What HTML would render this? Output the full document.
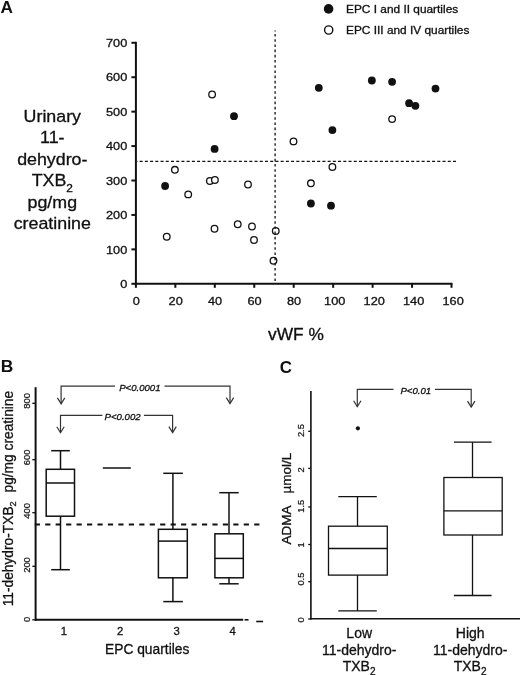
<!DOCTYPE html>
<html><head><meta charset="utf-8"><style>
html,body{margin:0;padding:0;background:#fff;}
svg{display:block;will-change:transform;}
text{font-family:"Liberation Sans", sans-serif;stroke:#111;stroke-width:0.3px;}
</style></head><body>
<svg width="520" height="675" viewBox="0 0 520 675">
<rect width="520" height="675" fill="#fff"/>
<text transform="translate(0.5,12.7)" font-size="17.2" text-anchor="start" font-weight="bold" font-style="normal" fill="#111" style="stroke:none">A</text>
<circle cx="328.6" cy="8.9" r="4.8" fill="#111"/>
<circle cx="328.7" cy="30" r="4.1" fill="none" stroke="#111" stroke-width="1.4"/>
<text transform="translate(346.0,13.1) scale(1.1,1)" font-size="10.8" text-anchor="start" font-weight="normal" font-style="normal" fill="#111">EPC I and II quartiles</text>
<text transform="translate(346.0,34.2) scale(1.1,1)" font-size="10.8" text-anchor="start" font-weight="normal" font-style="normal" fill="#111">EPC III and IV quartiles</text>
<line x1="135.9" y1="41.8" x2="135.9" y2="284.8" stroke="#111" stroke-width="2" />
<line x1="134.9" y1="283.8" x2="452.5" y2="283.8" stroke="#111" stroke-width="2" />
<line x1="131.4" y1="283.8" x2="135.9" y2="283.8" stroke="#111" stroke-width="2" />
<text transform="translate(127.3,288.0) scale(1.1,1)" font-size="11.6" text-anchor="end" font-weight="normal" font-style="normal" fill="#111">0</text>
<line x1="131.4" y1="249.37" x2="135.9" y2="249.37" stroke="#111" stroke-width="2" />
<text transform="translate(127.3,253.57) scale(1.1,1)" font-size="11.6" text-anchor="end" font-weight="normal" font-style="normal" fill="#111">100</text>
<line x1="131.4" y1="214.94" x2="135.9" y2="214.94" stroke="#111" stroke-width="2" />
<text transform="translate(127.3,219.14) scale(1.1,1)" font-size="11.6" text-anchor="end" font-weight="normal" font-style="normal" fill="#111">200</text>
<line x1="131.4" y1="180.51" x2="135.9" y2="180.51" stroke="#111" stroke-width="2" />
<text transform="translate(127.3,184.70999999999998) scale(1.1,1)" font-size="11.6" text-anchor="end" font-weight="normal" font-style="normal" fill="#111">300</text>
<line x1="131.4" y1="146.08" x2="135.9" y2="146.08" stroke="#111" stroke-width="2" />
<text transform="translate(127.3,150.28) scale(1.1,1)" font-size="11.6" text-anchor="end" font-weight="normal" font-style="normal" fill="#111">400</text>
<line x1="131.4" y1="111.65" x2="135.9" y2="111.65" stroke="#111" stroke-width="2" />
<text transform="translate(127.3,115.85000000000001) scale(1.1,1)" font-size="11.6" text-anchor="end" font-weight="normal" font-style="normal" fill="#111">500</text>
<line x1="131.4" y1="77.22" x2="135.9" y2="77.22" stroke="#111" stroke-width="2" />
<text transform="translate(127.3,81.42) scale(1.1,1)" font-size="11.6" text-anchor="end" font-weight="normal" font-style="normal" fill="#111">600</text>
<line x1="131.4" y1="42.79" x2="135.9" y2="42.79" stroke="#111" stroke-width="2" />
<text transform="translate(127.3,46.99) scale(1.1,1)" font-size="11.6" text-anchor="end" font-weight="normal" font-style="normal" fill="#111">700</text>
<line x1="135.9" y1="283.8" x2="135.9" y2="287.8" stroke="#111" stroke-width="2" />
<text transform="translate(136.20000000000002,305.0) scale(1.1,1)" font-size="11.6" text-anchor="middle" font-weight="normal" font-style="normal" fill="#111">0</text>
<line x1="175.35" y1="283.8" x2="175.35" y2="287.8" stroke="#111" stroke-width="2" />
<text transform="translate(175.65,305.0) scale(1.1,1)" font-size="11.6" text-anchor="middle" font-weight="normal" font-style="normal" fill="#111">20</text>
<line x1="214.8" y1="283.8" x2="214.8" y2="287.8" stroke="#111" stroke-width="2" />
<text transform="translate(215.10000000000002,305.0) scale(1.1,1)" font-size="11.6" text-anchor="middle" font-weight="normal" font-style="normal" fill="#111">40</text>
<line x1="254.25" y1="283.8" x2="254.25" y2="287.8" stroke="#111" stroke-width="2" />
<text transform="translate(254.55,305.0) scale(1.1,1)" font-size="11.6" text-anchor="middle" font-weight="normal" font-style="normal" fill="#111">60</text>
<line x1="293.7" y1="283.8" x2="293.7" y2="287.8" stroke="#111" stroke-width="2" />
<text transform="translate(294.0,305.0) scale(1.1,1)" font-size="11.6" text-anchor="middle" font-weight="normal" font-style="normal" fill="#111">80</text>
<line x1="333.15" y1="283.8" x2="333.15" y2="287.8" stroke="#111" stroke-width="2" />
<text transform="translate(334.75,305.0) scale(1.1,1)" font-size="11.6" text-anchor="middle" font-weight="normal" font-style="normal" fill="#111">100</text>
<line x1="372.6" y1="283.8" x2="372.6" y2="287.8" stroke="#111" stroke-width="2" />
<text transform="translate(374.20000000000005,305.0) scale(1.1,1)" font-size="11.6" text-anchor="middle" font-weight="normal" font-style="normal" fill="#111">120</text>
<line x1="412.05" y1="283.8" x2="412.05" y2="287.8" stroke="#111" stroke-width="2" />
<text transform="translate(413.65000000000003,305.0) scale(1.1,1)" font-size="11.6" text-anchor="middle" font-weight="normal" font-style="normal" fill="#111">140</text>
<line x1="451.5" y1="283.8" x2="451.5" y2="287.8" stroke="#111" stroke-width="2" />
<text transform="translate(453.1,305.0) scale(1.1,1)" font-size="11.6" text-anchor="middle" font-weight="normal" font-style="normal" fill="#111">160</text>
<circle cx="212.1" cy="94.5" r="3.3" fill="#fff" stroke="#111" stroke-width="1.3"/>
<circle cx="174.9" cy="169.8" r="3.3" fill="#fff" stroke="#111" stroke-width="1.3"/>
<circle cx="209.9" cy="181" r="3.3" fill="#fff" stroke="#111" stroke-width="1.3"/>
<circle cx="214.9" cy="180" r="3.3" fill="#fff" stroke="#111" stroke-width="1.3"/>
<circle cx="188.2" cy="194.4" r="3.3" fill="#fff" stroke="#111" stroke-width="1.3"/>
<circle cx="248" cy="184.5" r="3.3" fill="#fff" stroke="#111" stroke-width="1.3"/>
<circle cx="166.75" cy="236.75" r="3.3" fill="#fff" stroke="#111" stroke-width="1.3"/>
<circle cx="214.5" cy="228.75" r="3.3" fill="#fff" stroke="#111" stroke-width="1.3"/>
<circle cx="237.75" cy="224.25" r="3.3" fill="#fff" stroke="#111" stroke-width="1.3"/>
<circle cx="252" cy="226.5" r="3.3" fill="#fff" stroke="#111" stroke-width="1.3"/>
<circle cx="254" cy="240" r="3.3" fill="#fff" stroke="#111" stroke-width="1.3"/>
<circle cx="275.75" cy="231" r="3.3" fill="#fff" stroke="#111" stroke-width="1.3"/>
<circle cx="273.5" cy="260.75" r="3.3" fill="#fff" stroke="#111" stroke-width="1.3"/>
<circle cx="293.5" cy="141.4" r="3.3" fill="#fff" stroke="#111" stroke-width="1.3"/>
<circle cx="392.1" cy="119.1" r="3.3" fill="#fff" stroke="#111" stroke-width="1.3"/>
<circle cx="332.4" cy="167" r="3.3" fill="#fff" stroke="#111" stroke-width="1.3"/>
<circle cx="310.9" cy="183.3" r="3.3" fill="#fff" stroke="#111" stroke-width="1.3"/>
<circle cx="234" cy="116.2" r="3.9" fill="#111"/>
<circle cx="214.6" cy="148.9" r="3.9" fill="#111"/>
<circle cx="165.1" cy="186" r="3.9" fill="#111"/>
<circle cx="318.8" cy="87.8" r="3.9" fill="#111"/>
<circle cx="371.85" cy="80.5" r="3.9" fill="#111"/>
<circle cx="392.1" cy="81.8" r="3.9" fill="#111"/>
<circle cx="435.5" cy="88.6" r="3.9" fill="#111"/>
<circle cx="409.1" cy="103.2" r="3.9" fill="#111"/>
<circle cx="415.4" cy="105.8" r="3.9" fill="#111"/>
<circle cx="332.4" cy="130.1" r="3.9" fill="#111"/>
<circle cx="310.9" cy="203.5" r="3.9" fill="#111"/>
<circle cx="331" cy="205.7" r="3.9" fill="#111"/>
<line x1="137" y1="161.4" x2="456.2" y2="161.4" stroke="#111" stroke-width="1.2" stroke-dasharray="3 2.222" stroke-dashoffset="2.57"/>
<line x1="275.1" y1="30.5" x2="275.1" y2="283" stroke="#111" stroke-width="1.3" stroke-dasharray="2.6 2.6" stroke-dashoffset="1.7"/>
<text transform="translate(52.3,122.0) scale(1.1,1)" font-size="16.2" text-anchor="middle" font-weight="normal" font-style="normal" fill="#111">Urinary</text>
<text transform="translate(52.3,143.4) scale(1.1,1)" font-size="16.2" text-anchor="middle" font-weight="normal" font-style="normal" fill="#111">11-</text>
<text transform="translate(52.3,164.9) scale(1.1,1)" font-size="16.2" text-anchor="middle" font-weight="normal" font-style="normal" fill="#111">dehydro-</text>
<text transform="translate(52.3,186.4) scale(1.1,1)" font-size="16.2" text-anchor="middle" fill="#111">TXB<tspan font-size="10.8" dy="5.3">2</tspan></text>
<text transform="translate(52.3,207.8) scale(1.1,1)" font-size="16.2" text-anchor="middle" font-weight="normal" font-style="normal" fill="#111">pg/mg</text>
<text transform="translate(52.3,229.3) scale(1.1,1)" font-size="16.2" text-anchor="middle" font-weight="normal" font-style="normal" fill="#111">creatinine</text>
<text transform="translate(295.9,339.5) scale(1.11,1)" font-size="15.6" text-anchor="middle" font-weight="normal" font-style="normal" fill="#111">vWF %</text>
<text transform="translate(0.8,372.2)" font-size="17.4" text-anchor="start" font-weight="bold" font-style="normal" fill="#111" style="stroke:none">B</text>
<line x1="35.6" y1="387.2" x2="35.6" y2="620.8" stroke="#111" stroke-width="2" />
<line x1="35" y1="619.8" x2="243.2" y2="619.8" stroke="#111" stroke-width="2" />
<line x1="244.6" y1="619.8" x2="248.5" y2="619.8" stroke="#111" stroke-width="1.6" />
<line x1="256.2" y1="621.5" x2="263.1" y2="621.5" stroke="#111" stroke-width="1.6" />
<line x1="32.3" y1="403.3" x2="36" y2="403.3" stroke="#111" stroke-width="1.3" />
<text transform="translate(30.3,400.9) rotate(-90) scale(1.04,1)" font-size="9.0" text-anchor="middle" font-weight="normal" font-style="normal" fill="#111" style="stroke-width:0.22px">800</text>
<line x1="32.3" y1="459.7" x2="36" y2="459.7" stroke="#111" stroke-width="1.3" />
<text transform="translate(30.3,457.4) rotate(-90) scale(1.04,1)" font-size="9.0" text-anchor="middle" font-weight="normal" font-style="normal" fill="#111" style="stroke-width:0.22px">600</text>
<line x1="32.3" y1="512.7" x2="36" y2="512.7" stroke="#111" stroke-width="1.3" />
<text transform="translate(30.3,510.9) rotate(-90) scale(1.04,1)" font-size="9.0" text-anchor="middle" font-weight="normal" font-style="normal" fill="#111" style="stroke-width:0.22px">400</text>
<line x1="32.3" y1="566.3" x2="36" y2="566.3" stroke="#111" stroke-width="1.3" />
<text transform="translate(30.3,565.0) rotate(-90) scale(1.04,1)" font-size="9.0" text-anchor="middle" font-weight="normal" font-style="normal" fill="#111" style="stroke-width:0.22px">200</text>
<line x1="32.3" y1="619.8" x2="36" y2="619.8" stroke="#111" stroke-width="1.3" />
<text transform="translate(30.3,619.5) rotate(-90) scale(1.04,1)" font-size="9.0" text-anchor="middle" font-weight="normal" font-style="normal" fill="#111" style="stroke-width:0.22px">0</text>
<line x1="34.75" y1="524.5" x2="259.6" y2="524.5" stroke="#111" stroke-width="1.9" stroke-dasharray="5.2 5.25"/>
<rect x="46.2" y="469.3" width="28.3" height="46.9" fill="none" stroke="#111" stroke-width="1.5"/>
<line x1="46.2" y1="483.0" x2="74.5" y2="483.0" stroke="#111" stroke-width="1.5" />
<line x1="60.5" y1="450.7" x2="60.5" y2="469.3" stroke="#111" stroke-width="1.5" />
<line x1="60.5" y1="516.2" x2="60.5" y2="569.7" stroke="#111" stroke-width="1.5" />
<line x1="51.2" y1="450.7" x2="69.8" y2="450.7" stroke="#111" stroke-width="1.5" />
<line x1="51.2" y1="569.7" x2="69.8" y2="569.7" stroke="#111" stroke-width="1.5" />
<line x1="102.8" y1="468.0" x2="130.8" y2="468.0" stroke="#111" stroke-width="1.5" />
<rect x="158.4" y="529.3" width="28.9" height="48.5" fill="none" stroke="#111" stroke-width="1.5"/>
<line x1="158.4" y1="541.1" x2="187.3" y2="541.1" stroke="#111" stroke-width="1.5" />
<line x1="172.9" y1="473.3" x2="172.9" y2="529.3" stroke="#111" stroke-width="1.5" />
<line x1="172.9" y1="577.8" x2="172.9" y2="601.6" stroke="#111" stroke-width="1.5" />
<line x1="163.3" y1="473.3" x2="182.9" y2="473.3" stroke="#111" stroke-width="1.5" />
<line x1="163.3" y1="601.6" x2="182.9" y2="601.6" stroke="#111" stroke-width="1.5" />
<rect x="214.9" y="533.8" width="28.4" height="44.0" fill="none" stroke="#111" stroke-width="1.5"/>
<line x1="214.9" y1="558.4" x2="243.3" y2="558.4" stroke="#111" stroke-width="1.5" />
<line x1="229.0" y1="492.7" x2="229.0" y2="533.8" stroke="#111" stroke-width="1.5" />
<line x1="229.0" y1="577.8" x2="229.0" y2="583.8" stroke="#111" stroke-width="1.5" />
<line x1="219.3" y1="492.7" x2="238.7" y2="492.7" stroke="#111" stroke-width="1.5" />
<line x1="219.3" y1="583.8" x2="238.7" y2="583.8" stroke="#111" stroke-width="1.5" />
<text transform="translate(63.8,635.0)" font-size="11.3" text-anchor="middle" font-weight="normal" font-style="normal" fill="#111">1</text>
<text transform="translate(120.2,635.0)" font-size="11.3" text-anchor="middle" font-weight="normal" font-style="normal" fill="#111">2</text>
<text transform="translate(176.6,635.0)" font-size="11.3" text-anchor="middle" font-weight="normal" font-style="normal" fill="#111">3</text>
<text transform="translate(232.6,635.0)" font-size="11.3" text-anchor="middle" font-weight="normal" font-style="normal" fill="#111">4</text>
<text transform="translate(105.0,653.5)" font-size="13.8" text-anchor="start" font-weight="normal" font-style="normal" fill="#111">EPC quartiles</text>
<text transform="translate(13.2,606.3) rotate(-90)" font-size="13.75" fill="#111">11-dehydro-TXB<tspan font-size="9.2" dy="3.2">2</tspan><tspan x="113.8" dy="-3.2" font-size="13.75">pg/mg creatinine</tspan></text>
<path d="M61.1,403.8 L61.1,386.2 L115.0,386.2 M164.5,386.2 L230.0,386.2 L230.0,403.5" fill="none" stroke="#333" stroke-width="1.2"/>
<path d="M57.4,397.90000000000003 L61.1,403.8 L64.8,397.90000000000003" fill="none" stroke="#333" stroke-width="1.2"/>
<path d="M226.3,397.6 L230.0,403.5 L233.7,397.6" fill="none" stroke="#333" stroke-width="1.2"/>
<text transform="translate(119.2,390.8)" font-size="9.6" text-anchor="start" font-weight="normal" font-style="italic" fill="#111">P&lt;0.0001</text>
<path d="M60.5,432.7 L60.5,415.4 L102.4,415.4 M143.9,415.4 L172.6,415.4 L172.6,432.5" fill="none" stroke="#333" stroke-width="1.2"/>
<path d="M56.8,426.8 L60.5,432.7 L64.2,426.8" fill="none" stroke="#333" stroke-width="1.2"/>
<path d="M168.9,426.6 L172.6,432.5 L176.29999999999998,426.6" fill="none" stroke="#333" stroke-width="1.2"/>
<text transform="translate(104.6,420.0)" font-size="9.6" text-anchor="start" font-weight="normal" font-style="italic" fill="#111">P&lt;0.002</text>
<text transform="translate(279.7,372.6)" font-size="16.9" text-anchor="start" font-weight="bold" font-style="normal" fill="#111" style="stroke:none">C</text>
<line x1="310.9" y1="391.0" x2="310.9" y2="619.6" stroke="#111" stroke-width="1.6" />
<line x1="310.1" y1="618.8" x2="520" y2="618.8" stroke="#111" stroke-width="1.6" />
<line x1="308.2" y1="431.3" x2="310.9" y2="431.3" stroke="#111" stroke-width="1.3" />
<text transform="translate(304.4,430.6) rotate(-90) scale(1.04,1)" font-size="9.0" text-anchor="middle" font-weight="normal" font-style="normal" fill="#111" style="stroke-width:0.22px">2.5</text>
<line x1="308.2" y1="468.4" x2="310.9" y2="468.4" stroke="#111" stroke-width="1.3" />
<text transform="translate(304.4,470.0) rotate(-90) scale(1.04,1)" font-size="9.0" text-anchor="middle" font-weight="normal" font-style="normal" fill="#111" style="stroke-width:0.22px">2</text>
<line x1="308.2" y1="507.0" x2="310.9" y2="507.0" stroke="#111" stroke-width="1.3" />
<text transform="translate(304.4,506.3) rotate(-90) scale(1.04,1)" font-size="9.0" text-anchor="middle" font-weight="normal" font-style="normal" fill="#111" style="stroke-width:0.22px">1.5</text>
<line x1="308.2" y1="544.5" x2="310.9" y2="544.5" stroke="#111" stroke-width="1.3" />
<text transform="translate(304.4,544.8) rotate(-90) scale(1.04,1)" font-size="9.0" text-anchor="middle" font-weight="normal" font-style="normal" fill="#111" style="stroke-width:0.22px">1</text>
<line x1="308.2" y1="581.7" x2="310.9" y2="581.7" stroke="#111" stroke-width="1.3" />
<text transform="translate(304.4,579.1) rotate(-90) scale(1.04,1)" font-size="9.0" text-anchor="middle" font-weight="normal" font-style="normal" fill="#111" style="stroke-width:0.22px">0.5</text>
<line x1="308.2" y1="619.0" x2="310.9" y2="619.0" stroke="#111" stroke-width="1.3" />
<text transform="translate(304.4,620.0) rotate(-90) scale(1.04,1)" font-size="9.0" text-anchor="middle" font-weight="normal" font-style="normal" fill="#111" style="stroke-width:0.22px">0</text>
<rect x="328.5" y="526.2" width="58.8" height="48.9" fill="none" stroke="#111" stroke-width="1.3"/>
<line x1="328.5" y1="548.5" x2="387.3" y2="548.5" stroke="#111" stroke-width="1.3" />
<line x1="357.5" y1="496.6" x2="357.5" y2="526.2" stroke="#111" stroke-width="1.3" />
<line x1="357.5" y1="575.1" x2="357.5" y2="610.9" stroke="#111" stroke-width="1.3" />
<line x1="338.3" y1="496.6" x2="376.8" y2="496.6" stroke="#111" stroke-width="1.3" />
<line x1="338.3" y1="610.9" x2="376.8" y2="610.9" stroke="#111" stroke-width="1.3" />
<rect x="443.9" y="477.5" width="58.3" height="57.5" fill="none" stroke="#111" stroke-width="1.3"/>
<line x1="443.9" y1="510.8" x2="502.2" y2="510.8" stroke="#111" stroke-width="1.3" />
<line x1="472.5" y1="442.2" x2="472.5" y2="477.5" stroke="#111" stroke-width="1.3" />
<line x1="472.5" y1="535.0" x2="472.5" y2="595.5" stroke="#111" stroke-width="1.3" />
<line x1="453.9" y1="442.2" x2="491.6" y2="442.2" stroke="#111" stroke-width="1.3" />
<line x1="453.9" y1="595.5" x2="491.6" y2="595.5" stroke="#111" stroke-width="1.3" />
<circle cx="357.9" cy="428.3" r="2.1" fill="#111"/>
<path d="M357.3,406.7 L357.3,389.4 L393.5,389.4 M434.9,389.4 L471.2,389.4 L471.2,407.0" fill="none" stroke="#333" stroke-width="1.2"/>
<path d="M353.6,400.8 L357.3,406.7 L361.0,400.8" fill="none" stroke="#333" stroke-width="1.2"/>
<path d="M467.5,401.1 L471.2,407.0 L474.9,401.1" fill="none" stroke="#333" stroke-width="1.2"/>
<text transform="translate(400.4,393.6)" font-size="9.6" text-anchor="start" font-weight="normal" font-style="italic" fill="#111">P&lt;0.01</text>
<text transform="translate(291.1,544.6) rotate(-90)" font-size="13.5" fill="#111">ADMA</text>
<text transform="translate(291.1,493.6) rotate(-90)" font-size="13.5" fill="#111">µmol/L</text>
<text transform="translate(359.2,637.8)" font-size="14" text-anchor="middle" font-weight="normal" font-style="normal" fill="#111">Low</text>
<text transform="translate(359.2,654.6)" font-size="14" text-anchor="middle" font-weight="normal" font-style="normal" fill="#111">11-dehydro-</text>
<text transform="translate(359.09999999999997,670.8)" font-size="14" text-anchor="middle" fill="#111">TXB<tspan font-size="10" dy="4.2">2</tspan></text>
<text transform="translate(470.2,637.8)" font-size="14" text-anchor="middle" font-weight="normal" font-style="normal" fill="#111">High</text>
<text transform="translate(470.2,654.6)" font-size="14" text-anchor="middle" font-weight="normal" font-style="normal" fill="#111">11-dehydro-</text>
<text transform="translate(470.09999999999997,670.8)" font-size="14" text-anchor="middle" fill="#111">TXB<tspan font-size="10" dy="4.2">2</tspan></text>
</svg>
</body></html>
